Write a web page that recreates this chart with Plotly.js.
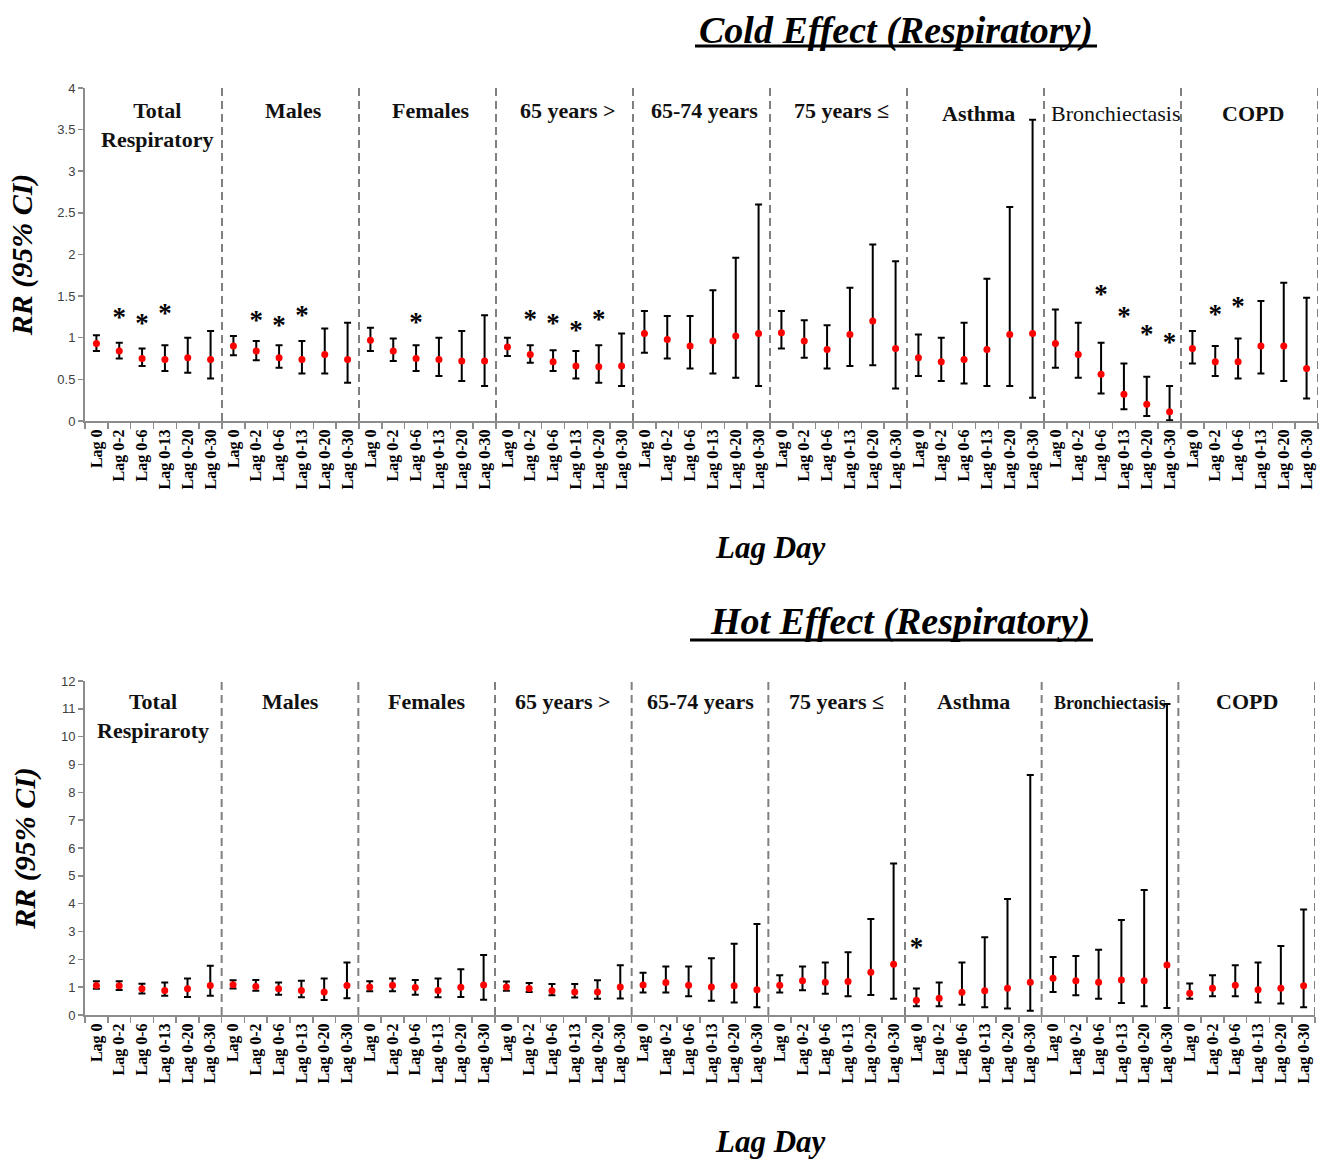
<!DOCTYPE html>
<html>
<head>
<meta charset="utf-8">
<script src="https://cdn.plot.ly/plotly-3.0.1.min.js"></script>
<style>html,body{margin:0;padding:0;background:#fff;}#chart{width:1325px;height:1159px;}</style>
</head>
<body>
<div id="chart"></div>
<script>
// ---------- data ----------
const lags = ['Lag 0','Lag 0-2','Lag 0-6','Lag 0-13','Lag 0-20','Lag 0-30'];
const groupsCold = ['Total<br>Respiratory','Males','Females','65 years >','65-74 years','75 years ≤','Asthma','Bronchiectasis','COPD'];
const groupsHot  = ['Total<br>Respiraroty','Males','Females','65 years >','65-74 years','75 years ≤','Asthma','Bronchiectasis','COPD'];

// Cold effect: relative risk and 95% CI
const coldRR = [
  0.93,0.84,0.75,0.74,0.76,0.74,
  0.90,0.84,0.76,0.74,0.80,0.74,
  0.97,0.84,0.75,0.74,0.72,0.72,
  0.89,0.80,0.71,0.66,0.65,0.66,
  1.05,0.98,0.90,0.96,1.02,1.05,
  1.06,0.96,0.86,1.04,1.20,0.87,
  0.76,0.71,0.74,0.86,1.04,1.05,
  0.93,0.80,0.56,0.32,0.20,0.11,
  0.87,0.71,0.71,0.90,0.90,0.63
];
const coldLow = [
  0.84,0.75,0.66,0.60,0.58,0.51,
  0.79,0.73,0.64,0.57,0.57,0.46,
  0.84,0.72,0.60,0.54,0.48,0.42,
  0.78,0.70,0.60,0.51,0.46,0.42,
  0.82,0.75,0.63,0.57,0.52,0.42,
  0.87,0.76,0.63,0.66,0.67,0.39,
  0.54,0.48,0.45,0.42,0.42,0.28,
  0.64,0.52,0.33,0.14,0.06,0.01,
  0.69,0.54,0.51,0.57,0.48,0.27
];
const coldHigh = [
  1.03,0.94,0.87,0.91,1.00,1.08,
  1.02,0.96,0.91,0.96,1.11,1.18,
  1.12,0.99,0.91,1.00,1.08,1.27,
  1.00,0.91,0.85,0.84,0.91,1.05,
  1.32,1.26,1.26,1.57,1.96,2.60,
  1.32,1.21,1.15,1.60,2.12,1.92,
  1.04,1.00,1.18,1.71,2.57,3.62,
  1.34,1.18,0.94,0.69,0.53,0.42,
  1.08,0.90,0.99,1.44,1.66,1.48
];
// significance stars (height where drawn; null = not significant)
const coldStar = [
  null,1.22,1.15,1.27,null,null,
  null,1.19,1.12,1.25,null,null,
  null,null,1.16,null,null,null,
  null,1.20,1.15,1.07,1.20,null,
  null,null,null,null,null,null,
  null,null,null,null,null,null,
  null,null,null,null,null,null,
  null,null,1.50,1.23,1.02,0.92,
  null,1.26,1.36,null,null,null
];

// Hot effect
const hotRR = [
  1.06,1.05,0.94,0.88,0.94,1.06,
  1.09,1.02,0.94,0.88,0.83,1.06,
  1.01,1.07,0.99,0.88,1.00,1.08,
  1.01,0.95,0.87,0.83,0.83,1.01,
  1.08,1.17,1.07,1.01,1.05,0.91,
  1.07,1.23,1.18,1.20,1.54,1.82,
  0.53,0.60,0.82,0.87,0.96,1.18,
  1.32,1.23,1.18,1.26,1.23,1.80,
  0.78,0.96,1.07,0.91,0.96,1.05
];
const hotLow = [
  0.94,0.90,0.77,0.69,0.65,0.69,
  0.95,0.87,0.73,0.64,0.54,0.60,
  0.85,0.85,0.73,0.64,0.65,0.55,
  0.87,0.83,0.71,0.63,0.58,0.59,
  0.81,0.81,0.67,0.51,0.45,0.28,
  0.81,0.89,0.76,0.67,0.72,0.58,
  0.31,0.31,0.37,0.28,0.23,0.15,
  0.83,0.71,0.58,0.43,0.31,0.25,
  0.58,0.67,0.67,0.45,0.41,0.28
];
const hotHigh = [
  1.21,1.21,1.12,1.17,1.31,1.77,
  1.25,1.26,1.17,1.23,1.31,1.89,
  1.21,1.31,1.26,1.31,1.64,2.16,
  1.20,1.15,1.11,1.11,1.25,1.79,
  1.52,1.74,1.74,2.04,2.56,3.27,
  1.43,1.74,1.89,2.25,3.45,5.44,
  0.95,1.17,1.89,2.79,4.17,8.62,
  2.08,2.12,2.34,3.41,4.49,11.17,
  1.13,1.43,1.79,1.89,2.48,3.79
];
const hotStar = [
  null,null,null,null,null,null,
  null,null,null,null,null,null,
  null,null,null,null,null,null,
  null,null,null,null,null,null,
  null,null,null,null,null,null,
  null,null,null,null,null,null,
  2.36,null,null,null,null,null,
  null,null,null,null,null,null,
  null,null,null,null,null,null
];

const coldTicks = [0,0.5,1,1.5,2,2.5,3,3.5,4];
const hotTicks = [0,1,2,3,4,5,6,7,8,9,10,11,12];

// ---------- build ----------
const nCat = groupsCold.length * lags.length;
const xIdx = Array.from({length: nCat}, (_, i) => i);
const xLabels = xIdx.map(i => lags[i % lags.length]);

function pointTrace(rr, lo, hi, xa, ya) {
  return {
    type: 'scatter', mode: 'markers', x: xIdx, y: rr, xaxis: xa, yaxis: ya,
    marker: {color: '#ff0000', size: 7},
    error_y: {type: 'data', symmetric: false,
      array: rr.map((v, i) => hi[i] - v),
      arrayminus: rr.map((v, i) => v - lo[i]),
      color: '#000000', thickness: 2, width: 3.5},
    hoverinfo: 'x+y', showlegend: false
  };
}
function starTrace(st, xa, ya) {
  return {
    type: 'scatter', mode: 'text', x: xIdx, y: st, xaxis: xa, yaxis: ya,
    text: st.map(v => v === null ? '' : '*'),
    textposition: 'middle center',
    textfont: {family: 'Liberation Serif', size: 27, color: '#000', weight: 'bold'},
    hoverinfo: 'skip', showlegend: false
  };
}

const data = [
  pointTrace(coldRR, coldLow, coldHigh, 'x', 'y'),
  starTrace(coldStar, 'x', 'y'),
  pointTrace(hotRR, hotLow, hotHigh, 'x2', 'y2'),
  starTrace(hotStar, 'x2', 'y2')
];

const shapes = [];
const annotations = [];
const nG = groupsCold.length, nL = lags.length;
for (let g = 0; g < nG; g++) {
  const b = g * nL + nL - 0.5;
  ['', '2'].forEach(s => {
    shapes.push({type: 'line', xref: 'x' + s, yref: 'y' + s + ' domain',
      x0: b, x1: b, y0: 0, y1: 1,
      line: {color: '#808080', width: 2, dash: '8px,5px'}});
  });
}
const serif = 'Liberation Serif';
groupsCold.forEach((g, i) => {
  const isBr = g === 'Bronchiectasis';
  annotations.push({xref: 'x', yref: 'y domain', x: i * nL + (nL - 1) / 2 + 0.15, y: 1,
    yanchor: 'top', xanchor: 'center', yshift: (i >= 6 ? -11 : -8), showarrow: false,
    text: isBr ? g : '<b>' + g + '</b>',
    font: {family: serif, size: 22, color: '#111'}});
});
groupsHot.forEach((g, i) => {
  const isBr = g === 'Bronchiectasis';
  annotations.push({xref: 'x2', yref: 'y2 domain', x: i * nL + (nL - 1) / 2, y: 1,
    yanchor: 'top', xanchor: 'center', yshift: isBr ? -10 : -6, showarrow: false,
    text: '<b>' + g + '</b>',
    font: {family: serif, size: isBr ? 18 : 22, color: '#111'}});
});
// "Lag Day" axis labels and second title
annotations.push({xref: 'paper', yref: 'paper', x: 0.5556, y: 0.5038, showarrow: false,
  xanchor: 'center', yanchor: 'middle', text: '<b><i>Lag Day</i></b>',
  font: {family: serif, size: 31, color: '#000'}});
annotations.push({xref: 'paper', yref: 'paper', x: 0.5556, y: -0.137, showarrow: false,
  xanchor: 'center', yanchor: 'middle', text: '<b><i>Lag Day</i></b>',
  font: {family: serif, size: 31, color: '#000'}});
annotations.push({xref: 'paper', yref: 'paper', x: 0.661, y: 0.424, showarrow: false,
  xanchor: 'center', yanchor: 'middle', text: '<b><i>Hot Effect (Respiratory)</i></b>',
  font: {family: serif, size: 38, color: '#000'}});
// title underlines
shapes.push({type: 'line', xref: 'paper', yref: 'paper', x0: 0.4947, x1: 0.8208, y0: 1.0453, y1: 1.0453,
  line: {color: '#000', width: 3}});
shapes.push({type: 'line', xref: 'paper', yref: 'paper', x0: 0.4907, x1: 0.8175, y0: 0.4045, y1: 0.4045,
  line: {color: '#000', width: 3}});

function xAxis(anchor, domain) {
  return {anchor: anchor, domain: domain, range: [-0.5, nCat - 0.5],
    tickmode: 'array', tickvals: xIdx, ticktext: xLabels, tickangle: -90,
    ticks: '', showgrid: false, zeroline: false,
    showline: true, linecolor: '#8c8c8c', linewidth: 2,
    tickfont: {family: serif, size: 16, color: '#000', weight: 'bold'},
    minor: {ticks: 'outside', tick0: -0.5, dtick: 1, ticklen: 6, tickcolor: '#8c8c8c', tickwidth: 1.5, showgrid: false},
    fixedrange: true};
}
function yAxis(anchor, domain, range, ticks) {
  return {anchor: anchor, domain: domain, range: range,
    tickmode: 'array', tickvals: ticks, ticktext: ticks.map(String),
    ticks: 'outside', ticklen: 5, tickcolor: '#8c8c8c', tickwidth: 1.5,
    showgrid: false, zeroline: false, showline: true, linecolor: '#8c8c8c', linewidth: 2,
    tickfont: {family: 'Liberation Sans', size: 13, color: '#404040'},
    title: {text: '<b><i>RR (95% CI)</i></b>', standoff: 16,
      font: {family: serif, size: 30, color: '#000'}},
    fixedrange: true};
}

const layout = {
  width: 1325, height: 1159,
  margin: {l: 85, r: 7, t: 88, b: 144},
  paper_bgcolor: '#fff', plot_bgcolor: '#fff',
  title: {text: '<b><i>Cold Effect (Respiratory)</i></b>', x: 896 / 1325, xanchor: 'center',
    xref: 'container', yref: 'container', y: 1 - 30 / 1159, yanchor: 'middle',
    font: {family: serif, size: 38, color: '#000'}},
  xaxis: xAxis('y', [0, 1]),
  yaxis: yAxis('x', [0.6408, 1], [0, 4], coldTicks),
  xaxis2: xAxis('y2', [0, 0.99757]),
  yaxis2: yAxis('x2', [0, 0.3603], [0, 12], hotTicks),
  shapes: shapes,
  annotations: annotations,
  showlegend: false
};

Plotly.newPlot('chart', data, layout, {displayModeBar: false, staticPlot: true});
</script>
</body>
</html>
